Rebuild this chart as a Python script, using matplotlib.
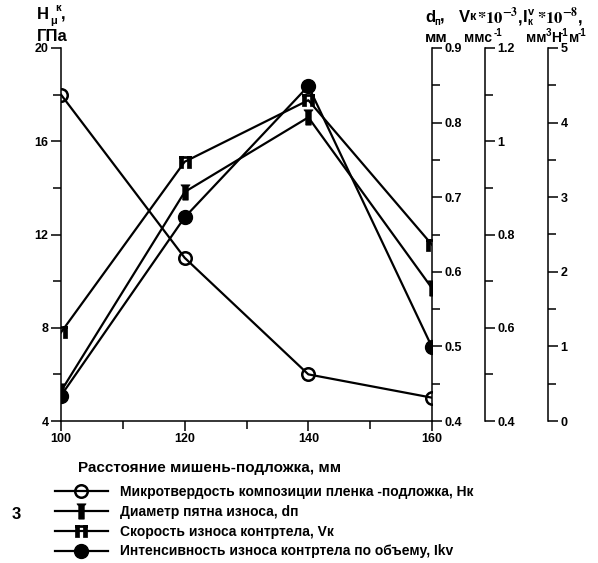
import matplotlib
matplotlib.use("Agg")
import matplotlib.pyplot as plt
from matplotlib.path import Path
from matplotlib.ticker import MultipleLocator

plt.rcParams['font.family'] = ['Liberation Sans', 'DejaVu Sans']
plt.rcParams['font.weight'] = 'bold'
plt.rcParams['mathtext.fontset'] = 'stix'

# data
distance = [100, 120, 140, 160]
hardness = [18, 11, 6, 5]                # H, GPa (left axis)
spot_diam = [0.44, 0.707, 0.807, 0.578]  # d, mm
wear_rate = [0.59, 0.956, 1.088, 0.778]  # V * 1e-3
wear_int = [0.34, 2.73, 4.49, 0.99]      # I * 1e-8

legend_labels = [
    "Микротвердость композиции пленка -подложка, Нк",
    "Диаметр пятна износа, dп",
    "Скорость износа контртела, Vк",
    "Интенсивность износа контртела по объему, Ikv",
]

W, H = 598, 563


def px(x, y):
    return x / W, 1 - y / H


# custom markers
pin = Path([(-0.18, -0.5), (0.18, -0.5), (0.18, 0.35), (0.3, 0.5), (-0.3, 0.5),
            (-0.18, 0.35), (-0.18, -0.5)])
dbl_verts = [(-0.5, -0.5), (-0.15, -0.5), (-0.15, 0.5), (-0.5, 0.5), (-0.5, -0.5),
             (0.15, -0.5), (0.5, -0.5), (0.5, 0.5), (0.15, 0.5), (0.15, -0.5),
             (-0.5, 0.35), (0.5, 0.35), (0.5, 0.5), (-0.5, 0.5), (-0.5, 0.35)]
dbl_codes = ([Path.MOVETO] + [Path.LINETO] * 3 + [Path.CLOSEPOLY]) * 3
dbl = Path(dbl_verts, dbl_codes)

fig = plt.figure(figsize=(W / 100, H / 100), dpi=100)
x0, y1 = px(61, 48)
x1, y0 = px(432, 421)
ax = fig.add_axes([x0, y0, x1 - x0, y1 - y0])
ax_d = ax.twinx()
ax_v = ax.twinx()
ax_i = ax.twinx()

lw = 1.6
l1, = ax.plot(distance, hardness, color='black', lw=lw, marker='o', ms=9,
              mfc='none', mec='black', mew=1.8)
l2, = ax_d.plot(distance, spot_diam, color='black', lw=lw, marker=pin, ms=11,
                mfc='black', mec='black', mew=0.5)
l3, = ax_v.plot(distance, wear_rate, color='black', lw=lw, marker=dbl, ms=9,
                mfc='black', mec='black', mew=0.5)
l4, = ax_i.plot(distance, wear_int, color='black', lw=lw, marker='o', ms=10,
                mfc='black', mec='black')

ax.set_xlim(100, 160)
ax.set_ylim(4, 20)
ax_d.set_ylim(0.4, 0.9)
ax_v.set_ylim(0.4, 1.2)
ax_i.set_ylim(0, 5)

ax.xaxis.set_major_locator(MultipleLocator(20))
ax.xaxis.set_minor_locator(MultipleLocator(10))
ax.yaxis.set_major_locator(MultipleLocator(4))
ax.yaxis.set_minor_locator(MultipleLocator(2))
ax_d.yaxis.set_major_locator(MultipleLocator(0.1))
ax_d.yaxis.set_minor_locator(MultipleLocator(0.05))
ax_v.yaxis.set_major_locator(MultipleLocator(0.2))
ax_v.yaxis.set_minor_locator(MultipleLocator(0.1))
ax_i.yaxis.set_major_locator(MultipleLocator(1))
ax_i.yaxis.set_minor_locator(MultipleLocator(0.5))

ax.spines['top'].set_visible(False)
ax.spines['right'].set_visible(False)
for a in (ax_d, ax_v, ax_i):
    for s in ('top', 'left', 'bottom'):
        a.spines[s].set_visible(False)
ax_v.spines['right'].set_position(('axes', 1.143))
ax_i.spines['right'].set_position(('axes', 1.313))

for a in (ax, ax_d, ax_v, ax_i):
    for s in a.spines.values():
        s.set_linewidth(1.1)
    a.tick_params(which='both', direction='out', width=1.1, labelsize=9, pad=2)
    a.tick_params(which='major', length=7)
    a.tick_params(which='minor', length=6)

fmt = lambda v, p: ('%g' % v)
for a in (ax_d, ax_v, ax_i):
    a.yaxis.set_major_formatter(fmt)

# axis titles
fig.text(*px(37, 19), "H", fontsize=12, fontweight='bold')
fig.text(*px(50, 24), "μ", fontsize=8)
fig.text(*px(55, 11), "к", fontsize=8, fontweight='bold')
fig.text(*px(61, 19), ",", fontsize=12, fontweight='bold')
fig.text(*px(37, 41), "ГПа", fontsize=12, fontweight='bold')

fig.text(*px(425, 22), "d", fontsize=12, fontweight='bold')
fig.text(*px(434, 25), "п", fontsize=7, fontweight='bold')
fig.text(*px(440, 22), ",", fontsize=12, fontweight='bold')
fig.text(*px(425, 42), "мм", fontsize=11, fontweight='bold')

fig.text(*px(459, 22), "V", fontsize=12, fontweight='bold')
fig.text(*px(469, 20), "к", fontsize=9, fontweight='bold')
fig.text(*px(477, 23), r"$*10^{-3}$,", fontsize=12)
fig.text(*px(464, 42), "ммс", fontsize=10, fontweight='bold')
fig.text(*px(494, 36), "-1", fontsize=7, fontweight='bold')

fig.text(*px(523, 22), "I", fontsize=12, fontweight='bold')
fig.text(*px(527, 25), "к", fontsize=7, fontweight='bold')
fig.text(*px(528, 15), "v", fontsize=8, fontweight='bold')
fig.text(*px(537, 23), r"$*10^{-8}$,", fontsize=12)
fig.text(*px(526, 42), "мм", fontsize=10, fontweight='bold')
fig.text(*px(546, 36), "3", fontsize=7, fontweight='bold')
fig.text(*px(551, 42), "Н", fontsize=10, fontweight='bold')
fig.text(*px(560, 36), "-1", fontsize=7, fontweight='bold')
fig.text(*px(569, 42), "м", fontsize=10, fontweight='bold')
fig.text(*px(578, 36), "-1", fontsize=7, fontweight='bold')

fig.text(*px(78, 472), "Расстояние мишень-подложка, мм", fontsize=11,
         fontweight='bold')
fig.text(*px(12, 519), "3", fontsize=12, fontweight='bold')

fig.legend([l1, l2, l3, l4], legend_labels, loc='upper left',
           bbox_to_anchor=px(55, 485), frameon=False,
           handlelength=3.8, handletextpad=0.9, labelspacing=0.42,
           borderpad=0, borderaxespad=0, prop={'weight': 'bold', 'size': 10})

fig.savefig("out.png", dpi=100)
